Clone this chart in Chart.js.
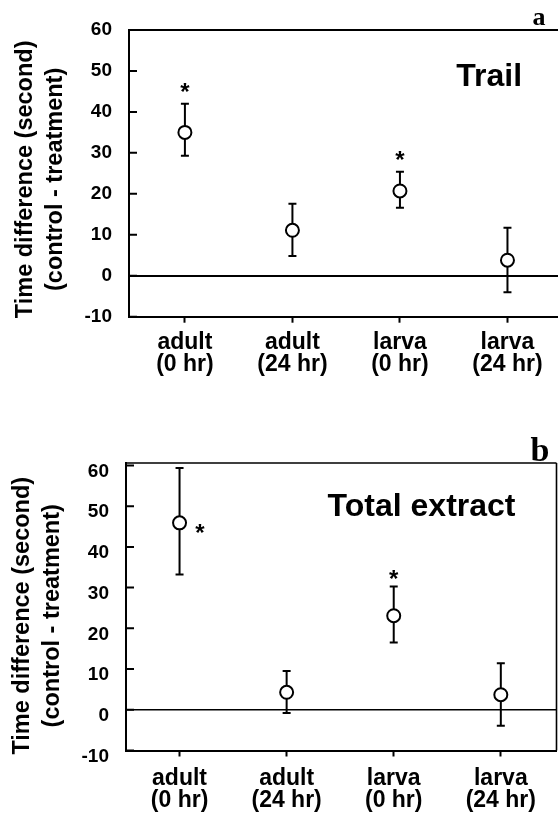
<!DOCTYPE html>
<html><head><meta charset="utf-8">
<script src="https://cdn.jsdelivr.net/npm/chart.js@4.4.1/dist/chart.umd.min.js"></script>
<style>
html,body{margin:0;padding:0;background:#fff;}
canvas{display:block;}
</style></head>
<body>
<canvas id="ca" width="558" height="411"></canvas>
<canvas id="cb" width="558" height="411"></canvas>
<script>
// ---- data ----
const categories = [['adult','(0 hr)'],['adult','(24 hr)'],['larva','(0 hr)'],['larva','(24 hr)']];
const yTicks = [-10, 0, 10, 20, 30, 40, 50, 60];
const yTitle = ['Time difference (second)', '(control - treatment)'];

const trailMean  = [35.0, 11.1, 20.7, 3.8];
const trailUpper = [42.0, 17.6, 25.4, 11.7];
const trailLower = [29.3, 4.8, 16.6, -4.0];
const trailStarX = [1, 3];
const trailStarY = [46.0, 29.4];

const totalMean  = [45.9, 4.3, 23.1, 3.7];
const totalUpper = [59.4, 9.5, 30.3, 11.4];
const totalLower = [33.2, -0.8, 16.5, -3.9];
const totalStarX = [1.19, 3];
const totalStarY = [44.7, 33.3];

const SANS = "'Liberation Sans', Arial, Helvetica, sans-serif";
const SERIF = "'Liberation Serif', 'Times New Roman', serif";

function makePanel(id, cfg) {
  const deco = {
    id: 'deco_' + id,
    afterLayout(chart) {
      const s = chart.scales.y;
      if (!s._shifted) {
        const orig = s.drawTitle.bind(s);
        s.drawTitle = function () {
          const c = this.ctx;
          c.save(); c.translate(0, cfg.titleShift); orig(); c.restore();
        };
        s._shifted = true;
      }
    },
    beforeDatasetsDraw(chart) {
      const {ctx, chartArea: a, scales: {x, y}} = chart;
      ctx.save();
      ctx.strokeStyle = '#000';
      ctx.lineWidth = cfg.frameWidth;
      ctx.beginPath();
      ctx.moveTo(a.left - 1, a.top); ctx.lineTo(a.right, a.top);
      if (cfg.rightBorder) { ctx.moveTo(a.right, a.top); ctx.lineTo(a.right, a.bottom); }
      ctx.stroke();
      // inward y tick marks
      ctx.lineWidth = 2;
      ctx.beginPath();
      yTicks.forEach(v => { const py = y.getPixelForValue(v); ctx.moveTo(a.left, py); ctx.lineTo(a.left + 8, py); });
      ctx.stroke();
      // error bars
      ctx.beginPath();
      cfg.mean.forEach((m, i) => {
        const px = x.getPixelForValue(i + 1);
        const pu = y.getPixelForValue(cfg.upper[i]);
        const pl = y.getPixelForValue(cfg.lower[i]);
        ctx.moveTo(px, pu); ctx.lineTo(px, pl);
        ctx.moveTo(px - 4, pu); ctx.lineTo(px + 4, pu);
        ctx.moveTo(px - 4, pl); ctx.lineTo(px + 4, pl);
      });
      ctx.stroke();
      ctx.restore();
    },
    afterDatasetsDraw(chart) {
      const {ctx, chartArea: a, scales: {x, y}} = chart;
      ctx.save();
      ctx.fillStyle = '#000';
      // asterisks
      ctx.font = 'bold 24px ' + SANS;
      ctx.textAlign = 'center';
      ctx.textBaseline = 'alphabetic';
      cfg.starX.forEach((sx, i) => {
        ctx.fillText('*', x.getPixelForValue(sx), y.getPixelForValue(cfg.starY[i]) + 13);
      });
      // heading
      ctx.font = 'bold ' + cfg.headSize + 'px ' + SANS;
      ctx.fillText(cfg.heading, x.getPixelForValue(cfg.headX), y.getPixelForValue(cfg.headY));
      // panel letter
      ctx.font = 'bold ' + cfg.letterSize + 'px ' + SERIF;
      ctx.fillText(cfg.letter, cfg.letterX, cfg.letterY);
      ctx.restore();
    }
  };

  return new Chart(document.getElementById(id), {
    type: 'scatter',
    data: {
      datasets: [{
        data: cfg.mean.map((v, i) => ({x: i + 1, y: v})),
        pointRadius: 6.5, pointHoverRadius: 6.5,
        pointBackgroundColor: '#fff', pointBorderColor: '#000', pointBorderWidth: 2,
        showLine: false
      }]
    },
    options: {
      responsive: false, animation: false, events: [],
      layout: {autoPadding: false, padding: {top: cfg.top, right: cfg.right, left: 0, bottom: 0}},
      plugins: {legend: {display: false}, tooltip: {enabled: false}},
      scales: {
        x: {
          type: 'linear', min: cfg.xMin, max: cfg.xMax,
          afterBuildTicks: s => { s.ticks = categories.map((c, i) => ({value: i + 1})); },
          afterFit: s => { s.height = 411 - cfg.bottom; s.paddingLeft = 0; s.paddingRight = 0; },
          ticks: {
            callback: v => categories[Math.round(v) - 1],
            font: {family: SANS, size: 23, weight: 'bold', lineHeight: 0.95},
            color: '#000', padding: cfg.xPad, maxRotation: 0, autoSkip: false
          },
          grid: {drawOnChartArea: false, drawTicks: true, tickLength: 6, tickWidth: 2, tickColor: '#000', color: '#000'},
          border: {display: true, color: '#000', width: 2}
        },
        y: {
          min: -10, max: cfg.yMax,
          afterBuildTicks: s => { s.ticks = yTicks.map(v => ({value: v})); },
          afterFit: s => { s.width = cfg.left; s.paddingTop = 0; s.paddingBottom = 0; },
          ticks: {
            font: {family: SANS, size: 19, weight: 'bold'},
            color: '#000', padding: 17, labelOffset: cfg.labelOffset
          },
          grid: {
            drawTicks: false, lineWidth: cfg.zeroWidth,
            color: c => (c.tick && c.tick.value === 0) ? '#000' : 'rgba(0,0,0,0)'
          },
          border: {display: true, color: '#000', width: 2},
          title: {
            display: true, text: yTitle, color: '#000',
            font: {family: SANS, size: 23.5, weight: 'bold', lineHeight: 1.3},
            padding: {top: cfg.titlePad, bottom: 0}
          }
        }
      }
    },
    plugins: [deco]
  });
}

makePanel('ca', {
  mean: trailMean, upper: trailUpper, lower: trailLower,
  starX: trailStarX, starY: trailStarY,
  heading: 'Trail', headX: 3.83, headY: 46.4, headSize: 32,
  letter: 'a', letterX: 539, letterY: 25, letterSize: 26,
  left: 129, top: 30, bottom: 316.7, right: 0,
  xMin: 0.48, xMax: 4.47, yMax: 60, labelOffset: 0, xPad: 9,
  titlePad: 10, titleShift: 6, rightBorder: false, frameWidth: 2, zeroWidth: 2
});

makePanel('cb', {
  mean: totalMean, upper: totalUpper, lower: totalLower,
  starX: totalStarX, starY: totalStarY,
  heading: 'Total extract', headX: 3.26, headY: 47.5, headSize: 32,
  letter: 'b', letterX: 540, letterY: 50, letterSize: 34,
  left: 126, top: 52, bottom: 339.5, right: 1.5,
  xMin: 0.5, xMax: 4.52, yMax: 60.6, labelOffset: 6, xPad: 11,
  titlePad: 7, titleShift: 9, rightBorder: true, frameWidth: 1.6, zeroWidth: 1.5
});
</script>
</body></html>
